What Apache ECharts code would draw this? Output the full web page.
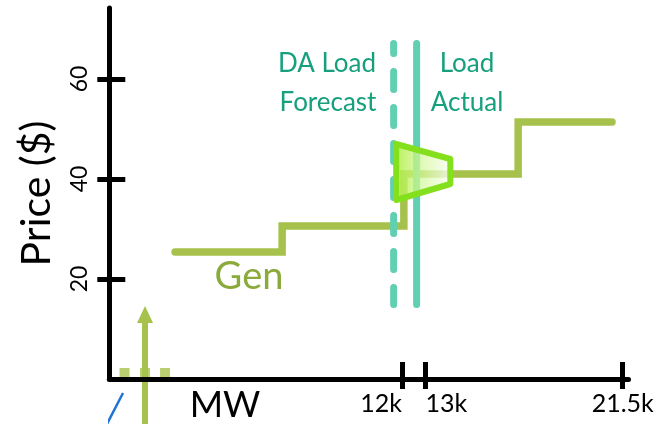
<!DOCTYPE html>
<html>
<head>
<meta charset="utf-8">
<script src="https://cdn.jsdelivr.net/npm/echarts@6/dist/echarts.min.js"></script>
<style>
  html, body { margin: 0; padding: 0; background: #ffffff; }
  #chart { width: 654px; height: 424px; }
</style>
</head>
<body>
<div id="chart"></div>
<script>
// Price axis ticks ($) and MW axis ticks
const priceTicks = [20, 40, 60];
const mwTicks = [12000, 13000, 21500];
const mwTickText = ['12k', '13k', '21.5k'];

// Generation offer stack: [MW, $] corners of the step curve
const genSteps = [[2230, 25.4], [6840, 30.6], [12080, 41], [17000, 51.4], [21040, 51.4]];

// Day-ahead load forecast and actual load (vertical lines, MW)
const forecastLoad = [[11640, 67.1], [11640, 14.9]];
const actualLoad = [[12630, 67.1], [12630, 14.9]];

// Price band between forecast and actual
const bandCorners = [[11750, 47], [14080, 44], [14080, 39], [11750, 35.8]];

// Small offer markers near the origin
const offerDots = [[56, 1.2], [938, 1.2], [1800, 1.2]];
const offerArrow = [[938, -9], [938, 12.9]];
const blueStroke = [[-10, -2.8], [-700, -9]];

const FONT = 'Lato, "Open Sans", sans-serif';
const GEN = '#a6c24c';
const LOAD = '#60cfb2';
const LOAD_TEXT = '#17a07e';

const chart = echarts.init(document.getElementById('chart'), null, { renderer: 'canvas' });

const xBase = {
  type: 'value', min: -600, max: 21750, position: 'bottom',
  splitLine: { show: false }
};
const yBase = {
  type: 'value', min: 0, max: 74.2, position: 'left',
  splitLine: { show: false }
};

chart.setOption({
  animation: false,
  backgroundColor: '#ffffff',
  grid: { left: 109.3, right: 25.5, top: 8, bottom: 45, containLabel: false, outerBoundsMode: 'none' },
  xAxis: [
    Object.assign({}, xBase, {
      z: 10,
      axisLine: { show: true, onZero: false, lineStyle: { color: '#000', width: 5 } },
      axisTick: { show: true, inside: false, length: 10, customValues: mwTicks,
                  lineStyle: { color: '#000', width: 5 } },
      axisLabel: {
        show: true, margin: 12, customValues: mwTicks, hideOverlap: false,
        fontFamily: FONT, fontSize: 25, color: '#000',
        formatter: function (v) {
          const i = mwTicks.indexOf(v);
          const key = i === 0 ? 'l' : (i === 1 ? 'r' : 'c');
          return '{' + key + '|' + mwTickText[i] + '}';
        },
        rich: {
          l: { fontFamily: FONT, fontSize: 25, color: '#000', padding: [0, 42, 0, 0] },
          r: { fontFamily: FONT, fontSize: 25, color: '#000', padding: [0, 0, 0, 42] },
          c: { fontFamily: FONT, fontSize: 25, color: '#000' }
        }
      }
    }),
    Object.assign({}, xBase, {
      z: 10,
      axisLine: { show: false, onZero: false },
      axisTick: { show: true, inside: true, length: 17, customValues: mwTicks,
                  lineStyle: { color: '#000', width: 5 } },
      axisLabel: { show: false }
    })
  ],
  yAxis: [
    Object.assign({}, yBase, {
      z: 10,
      name: 'Price ($)', nameLocation: 'middle', nameGap: 52, nameRotate: 90,
      nameTextStyle: { fontFamily: FONT, fontSize: 41, color: '#000' },
      axisLine: { show: true, onZero: false, lineStyle: { color: '#000', width: 5 } },
      axisTick: { show: true, inside: false, length: 12, customValues: priceTicks,
                  lineStyle: { color: '#000', width: 5 } },
      axisLabel: { show: true, rotate: 90, margin: 18, customValues: priceTicks,
                   fontFamily: FONT, fontSize: 23, color: '#000' }
    }),
    Object.assign({}, yBase, {
      z: 10,
      axisLine: { show: false, onZero: false },
      axisTick: { show: true, inside: true, length: 16, customValues: priceTicks,
                  lineStyle: { color: '#000', width: 5 } },
      axisLabel: { show: false }
    })
  ],
  series: [
    {
      name: 'Gen', type: 'line', step: 'end', data: genSteps,
      symbol: 'none', z: 2, silent: true,
      lineStyle: { color: GEN, width: 7.5, cap: 'round', join: 'miter' }
    },
    {
      name: 'DA Load Forecast', type: 'line', data: forecastLoad,
      symbol: 'none', z: 3, silent: true,
      lineStyle: { color: LOAD, width: 7, cap: 'round', type: [18, 18], dashOffset: 8 }
    },
    {
      name: 'Load Actual', type: 'line', data: actualLoad,
      symbol: 'none', z: 3, silent: true,
      lineStyle: { color: LOAD, width: 7, cap: 'round' }
    },
    {
      name: 'Price band', type: 'custom', data: bandCorners, z: 4, silent: true,
      renderItem: function (params, api) {
        if (params.dataIndex !== 0) return null;
        const pts = bandCorners.map(function (p) { return api.coord(p); });
        return {
          type: 'polygon',
          shape: { points: pts },
          style: {
            fill: new echarts.graphic.LinearGradient(0, 0, 1, 0, [
              { offset: 0, color: 'rgba(168,238,50,0.85)' },
              { offset: 0.5, color: 'rgba(214,248,160,0.72)' },
              { offset: 1, color: 'rgba(255,255,255,0.82)' }
            ]),
            stroke: '#84e01c',
            lineWidth: 6,
            lineJoin: 'round'
          }
        };
      }
    },
    {
      name: 'Offer arrow', type: 'line', z: 1, silent: true, clip: false,
      data: [{ value: offerArrow[0], symbol: 'none' }, { value: offerArrow[1], symbol: 'triangle', symbolSize: [16, 17] }],
      symbol: 'triangle', symbolSize: [16, 17], showSymbol: true,
      itemStyle: { color: GEN },
      lineStyle: { color: GEN, width: 6 }
    },
    {
      name: 'Offer dots', type: 'scatter', z: 1, silent: true, data: offerDots,
      symbol: 'rect', symbolSize: 10, itemStyle: { color: GEN }
    },
    {
      name: 'Stroke', type: 'line', z: 1, silent: true, clip: false, data: blueStroke,
      symbol: 'none', lineStyle: { color: '#2173d6', width: 2.5 }
    }
  ],
  graphic: [
    { type: 'text', z: 20, silent: true, style: { text: 'DA Load', x: 327, y: 64, textAlign: 'center', textVerticalAlign: 'middle', font: '26px ' + FONT, fill: LOAD_TEXT } },
    { type: 'text', z: 20, silent: true, style: { text: 'Forecast', x: 328, y: 103, textAlign: 'center', textVerticalAlign: 'middle', font: '26px ' + FONT, fill: LOAD_TEXT } },
    { type: 'text', z: 20, silent: true, style: { text: 'Load', x: 467, y: 64, textAlign: 'center', textVerticalAlign: 'middle', font: '26px ' + FONT, fill: LOAD_TEXT } },
    { type: 'text', z: 20, silent: true, style: { text: 'Actual', x: 467, y: 103, textAlign: 'center', textVerticalAlign: 'middle', font: '26px ' + FONT, fill: LOAD_TEXT } },
    { type: 'text', z: 20, silent: true, style: { text: 'Gen', x: 249, y: 277, textAlign: 'center', textVerticalAlign: 'middle', font: '38px ' + FONT, fill: '#8aab3b' } },
    { type: 'text', z: 20, silent: true, style: { text: 'MW', x: 225, y: 405, textAlign: 'center', textVerticalAlign: 'middle', font: '36px ' + FONT, fill: '#000' } }
  ]
});
</script>
</body>
</html>
